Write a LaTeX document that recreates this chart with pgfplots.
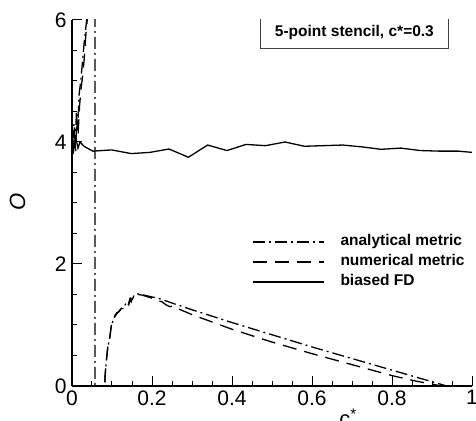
\documentclass[border=0pt]{standalone}
\usepackage{fontspec}
\setmainfont{Liberation Sans}
\usepackage{pgfplots}
\pgfplotsset{compat=1.18}

\begin{document}
\begin{tikzpicture}
\begin{axis}[name=ax,
  width=400pt,height=366pt,scale only axis,
  xmin=0,xmax=1,ymin=0,ymax=6,
  axis lines=left,axis line style={-,line width=1.5pt},
  xtick={0,0.2,0.4,0.6,0.8,1},ytick={0,2,4,6},
  minor x tick num=3,minor y tick num=3,
  tick align=inside,major tick length=10pt,minor tick length=5pt,
  every tick/.style={black,line width=1pt},
  tick label style={font=\fontsize{21}{21}\selectfont},
  /pgf/number format/assume math mode=true,
  xticklabel style={yshift=-1pt},
  yticklabel style={xshift=-2pt},
  ylabel={\textit{O}},
  ylabel style={font=\fontsize{22}{22}\selectfont,at={(rel axis cs:-0.136,0.503)},anchor=center},
  xlabel={c\textsuperscript{*}},
  xlabel style={font=\fontsize{22}{22}\selectfont,at={(rel axis cs:0.69,-0.112)},anchor=base},
  unbounded coords=jump,
  legend style={at={(rel axis cs:0.45,0.416)},anchor=north west,draw=none,fill=none,
    inner sep=0pt,row sep=4pt,font=\bfseries\fontsize{15.5}{15.5}\selectfont,
    nodes={inner sep=1pt,text height=11pt,text depth=3pt},
    /tikz/every odd column/.append style={column sep=15pt}},
  legend cell align=left,
  legend image code/.code={\draw[#1] (0pt,0pt) -- (71pt,0pt);},
]
\addplot[black,line width=1.3pt,dash pattern=on 12pt off 4pt on 2pt off 4pt] coordinates {
 (0.002,4.0)(0.005,4.3)(0.008,3.9)(0.011,4.5)(0.014,4.2)(0.018,4.8)(0.022,5.0)
 (0.026,5.3)(0.03,5.6)(0.035,5.9)(0.04,6.2)(0.045,7)(0.0575,7)(0.0575,-1)
 (0.0575,nan)
 (0.0805,-0.3)(0.083,0.2)(0.086,0.42)(0.088,0.55)(0.09,0.65)(0.094,0.78)(0.098,0.98)
 (0.102,1.06)(0.107,1.14)(0.113,1.19)(0.12,1.25)(0.126,1.29)(0.131,1.31)(0.136,1.37)
 (0.141,1.35)(0.146,1.44)(0.151,1.42)(0.156,1.5)(0.165,1.51)(0.18,1.49)(0.2,1.46)
 (0.22,1.43)(0.25,1.36)(0.3,1.25)(0.4,1.04)(0.5,0.84)(0.6,0.64)(0.7,0.45)(0.8,0.26)
 (0.9,0.07)(0.937,0)(0.95,-0.03)};
\addlegendentry{analytical metric}
\addplot[black,line width=1.3pt,dash pattern=on 14pt off 8pt] coordinates {
 (0.003,3.8)(0.006,4.1)(0.009,3.85)(0.012,4.4)(0.015,4.1)(0.019,4.6)(0.023,4.9)
 (0.027,5.1)(0.031,5.4)(0.034,5.7)(0.038,6.0)(0.042,6.5)(0.045,7.0)
 (0.05,nan)
 (0.0805,-0.3)(0.0825,0.15)(0.085,0.35)(0.087,0.48)(0.089,0.62)(0.091,0.67)(0.093,0.75)
 (0.095,0.81)(0.099,1.03)(0.103,1.05)(0.1075,1.16)(0.112,1.2)(0.118,1.22)(0.123,1.27)
 (0.128,1.27)(0.133,1.33)(0.138,1.36)(0.142,1.33)(0.145,1.42)(0.148,1.38)(0.152,1.46)
 (0.1575,1.51)(0.165,1.50)(0.175,1.49)(0.185,1.47)(0.195,1.45)(0.205,1.43)(0.215,1.40)
 (0.225,1.38)(0.235,1.33)(0.245,1.30)(0.25,1.31)(0.3,1.17)(0.4,0.93)(0.5,0.72)
 (0.6,0.53)(0.7,0.35)(0.8,0.17)(0.86,0.08)(0.9,0.03)(0.925,0)(0.94,-0.02)};
\addlegendentry{numerical metric}
\addplot[black,line width=1.3pt] coordinates {
 (0.0,4.02)(0.005,3.95)(0.01,4.05)(0.015,3.9)(0.02,4.0)(0.03,3.93)(0.052,3.85)
 (0.099,3.87)(0.148,3.81)(0.195,3.83)
 (0.2425,3.885)(0.291,3.75)(0.339,3.95)(0.3875,3.86)(0.435,3.96)(0.484,3.94)
 (0.5325,4.00)(0.581,3.93)(0.628,3.94)(0.677,3.95)(0.725,3.92)(0.773,3.88)
 (0.822,3.90)(0.87,3.86)(0.92,3.85)(0.966,3.85)(1.0,3.83)};
\addlegendentry{biased FD}
\node[draw=black!75,line width=0.8pt,minimum width=188pt,minimum height=32pt,
  font=\bfseries\fontsize{15.5}{15.5}\selectfont] at (rel axis cs:0.706,0.967)
  {5-point stencil, c*=0.3};
\end{axis}
\pgfresetboundingbox
\path[use as bounding box] ([shift={(-72pt,-35pt)}]ax.south west) rectangle ([shift={(4pt,20pt)}]ax.north east);
\end{tikzpicture}
\end{document}
